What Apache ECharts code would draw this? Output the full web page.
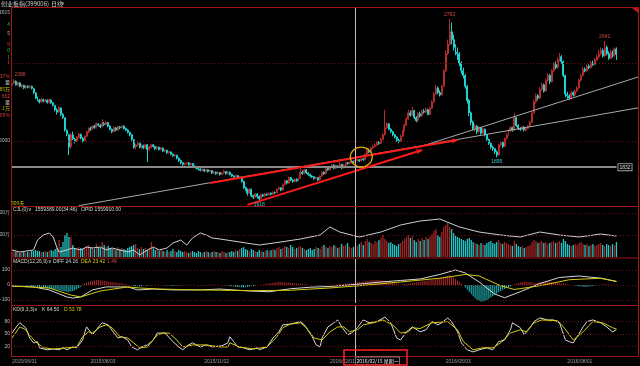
<!DOCTYPE html>
<html><head><meta charset="utf-8">
<script src="https://cdn.jsdelivr.net/npm/echarts@6/dist/echarts.min.js"></script>
<style>html,body{margin:0;padding:0;background:#000;}#c{width:640px;height:366px;}</style>
</head><body><div id="c"></div>
<script>
// ---------- DATA ----------
// candles: [open, close, low, high]
const candles = [
[2355,2370,2348,2380],[2372,2385,2365,2396],[2382,2360,2355,2388],[2358,2375,2350,2380],[2372,2350,2345,2378],[2350,2358,2340,2365],[2356,2340,2332,2360],[2340,2352,2335,2358],[2350,2345,2338,2356],[2345,2350,2336,2358],
[2350,2338,2330,2355],[2335,2310,2300,2340],[2308,2275,2268,2312],[2278,2262,2255,2285],[2262,2250,2240,2270],[2250,2268,2245,2275],[2266,2255,2248,2272],[2255,2262,2250,2270],[2262,2248,2240,2266],[2248,2265,2242,2270],
[2262,2245,2238,2268],[2245,2230,2222,2250],[2228,2200,2190,2232],[2200,2185,2170,2210],[2185,2215,2180,2222],[2212,2170,2160,2215],[2170,2150,2140,2178],[2148,2070,2060,2152],[2068,2045,2030,2075],[2040,1960,1910,2045],
[1965,2040,1950,2050],[2038,2015,2005,2060],[2012,2000,1985,2020],[2000,2025,1992,2032],[2022,2045,2015,2052],[2042,2020,2010,2048],[2018,2000,1990,2025],[2002,2030,1998,2035],[2030,2060,2025,2066],[2058,2080,2050,2088],
[2080,2075,2065,2092],[2075,2095,2070,2100],[2095,2085,2078,2102],[2085,2110,2080,2118],[2108,2100,2092,2115],[2100,2090,2082,2108],[2090,2115,2088,2140],[2112,2105,2095,2122],[2105,2120,2100,2128],[2118,2095,2088,2122],
[2095,2075,2068,2100],[2075,2060,2050,2080],[2060,2085,2055,2092],[2085,2070,2062,2090],[2070,2092,2066,2098],[2090,2085,2075,2096],[2085,2095,2080,2102],[2095,2080,2072,2100],[2080,2070,2062,2086],[2070,2055,2048,2075],
[2055,2040,2030,2060],[2040,2010,2000,2045],[2008,1960,1950,2012],[1962,1975,1945,1982],[1975,1985,1965,1995],[1984,1960,1952,1990],[1960,1970,1950,1978],[1970,1955,1948,1976],[1955,1975,1950,1982],[1975,1945,1865,1980],
[1945,1960,1938,1968],[1958,1975,1952,1982],[1975,1965,1958,1980],[1965,1950,1942,1970],[1950,1960,1945,1966],[1960,1945,1938,1964],[1945,1955,1940,1960],[1955,1935,1928,1958],[1935,1940,1928,1946],[1940,1925,1918,1944],
[1925,1930,1918,1936],[1930,1915,1908,1934],[1915,1905,1898,1920],[1905,1910,1896,1916],[1908,1890,1882,1912],[1890,1875,1866,1894],[1875,1860,1850,1880],[1860,1850,1840,1864],[1850,1855,1842,1862],[1855,1860,1848,1866],
[1860,1848,1840,1864],[1848,1855,1842,1860],[1855,1842,1835,1858],[1842,1835,1828,1846],[1835,1825,1818,1840],[1825,1820,1812,1830],[1820,1812,1805,1825],[1812,1818,1806,1824],[1818,1808,1800,1822],[1808,1815,1802,1820],
[1815,1805,1798,1818],[1805,1810,1798,1816],[1810,1795,1788,1814],[1795,1800,1788,1806],[1800,1790,1782,1804],[1790,1798,1785,1805],[1798,1785,1778,1802],[1785,1795,1780,1800],[1795,1805,1790,1815],[1805,1790,1784,1808],
[1790,1800,1785,1806],[1800,1785,1778,1804],[1785,1775,1768,1790],[1775,1770,1762,1780],[1770,1778,1765,1784],[1778,1765,1758,1782],[1765,1770,1758,1775],[1768,1740,1732,1772],[1740,1700,1692,1745],[1700,1690,1680,1708],
[1690,1665,1650,1695],[1665,1690,1660,1698],[1690,1650,1640,1694],[1650,1640,1628,1656],[1640,1660,1635,1666],[1660,1645,1630,1665],[1645,1630,1618,1650],[1630,1655,1625,1660],[1655,1648,1640,1662],[1648,1660,1642,1666],
[1660,1655,1648,1664],[1655,1665,1650,1670],[1665,1658,1650,1670],[1658,1670,1654,1676],[1670,1668,1660,1676],[1668,1690,1664,1696],[1690,1700,1685,1708],[1700,1685,1678,1704],[1685,1720,1682,1726],[1720,1745,1715,1752],
[1745,1730,1722,1750],[1730,1765,1726,1772],[1765,1750,1742,1770],[1750,1740,1732,1756],[1740,1755,1735,1760],[1755,1745,1738,1760],[1745,1760,1740,1766],[1760,1800,1755,1830],[1800,1790,1782,1810],[1790,1815,1786,1822],
[1815,1795,1788,1820],[1795,1785,1778,1800],[1785,1775,1768,1790],[1775,1770,1762,1780],[1770,1760,1752,1775],[1760,1765,1752,1770],[1765,1750,1742,1768],[1750,1775,1746,1780],[1775,1800,1770,1806],[1800,1790,1782,1806],
[1790,1825,1786,1832],[1825,1815,1808,1830],[1815,1830,1810,1836],[1830,1845,1825,1852],[1845,1825,1818,1850],[1825,1840,1820,1846],[1840,1835,1826,1846],[1835,1850,1830,1865],[1850,1828,1820,1854],[1828,1845,1824,1850],
[1845,1860,1840,1866],[1860,1855,1848,1866],[1855,1865,1850,1870],[1865,1870,1858,1876],[1870,1862,1855,1874],[1862,1875,1858,1880],[1875,1880,1868,1886],[1880,1872,1865,1884],[1872,1885,1868,1890],[1885,1880,1872,1890],
[1880,1915,1876,1920],[1915,1940,1910,1948],[1940,1930,1922,1950],[1930,1955,1926,1962],[1955,1965,1948,1975],[1965,1975,1958,1985],[1975,1990,1968,1998],[1990,1985,1975,1998],[1985,2010,1980,2020],[2010,2040,2005,2050],
[2040,2085,2035,2200],[2085,2110,2078,2120],[2110,2075,2068,2115],[2075,2060,2050,2082],[2060,2040,2030,2065],[2040,2025,2015,2046],[2025,2005,1995,2030],[2005,1998,1985,2015],[1998,2030,1992,2040],[2030,2065,2025,2072],
[2065,2100,2060,2110],[2100,2140,2095,2150],[2140,2180,2135,2200],[2180,2165,2155,2195],[2165,2195,2160,2220],[2195,2150,2140,2200],[2150,2130,2120,2160],[2130,2175,2125,2185],[2175,2160,2150,2188],[2160,2190,2155,2200],
[2190,2185,2175,2205],[2185,2200,2178,2215],[2200,2170,2165,2208],[2170,2210,2166,2220],[2210,2250,2205,2260],[2250,2300,2245,2315],[2300,2340,2295,2360],[2340,2310,2300,2350],[2310,2295,2285,2325],[2295,2350,2290,2360],
[2350,2450,2345,2460],[2450,2560,2440,2580],[2560,2620,2550,2650],[2620,2700,2610,2782],[2700,2650,2620,2760],[2650,2600,2580,2680],[2600,2570,2550,2620],[2570,2560,2520,2600],[2560,2500,2480,2570],[2500,2450,2430,2510],
[2450,2420,2400,2470],[2420,2350,2335,2430],[2350,2260,2240,2360],[2260,2180,2160,2270],[2180,2120,2100,2190],[2120,2080,2068,2130],[2080,2095,2060,2110],[2095,2060,2045,2102],[2060,2085,2050,2095],[2085,2050,2040,2090],
[2050,2075,2045,2085],[2075,2040,2030,2080],[2040,2010,2000,2045],[2010,1985,1975,2015],[1985,1960,1950,1990],[1960,1950,1935,1970],[1950,1930,1915,1955],[1930,1910,1895,1940],[1910,1975,1905,1982],[1975,1990,1965,2000],
[1990,1965,1955,1995],[1965,2015,1960,2022],[2015,2040,2010,2050],[2040,2065,2035,2075],[2065,2085,2058,2095],[2085,2070,2060,2092],[2070,2150,2065,2180],[2150,2100,2090,2155],[2100,2080,2070,2108],[2080,2075,2065,2088],
[2075,2090,2068,2098],[2090,2070,2062,2095],[2070,2080,2062,2088],[2080,2095,2075,2102],[2095,2120,2090,2130],[2120,2180,2115,2190],[2180,2250,2175,2265],[2250,2290,2240,2305],[2290,2275,2260,2300],[2275,2330,2270,2345],
[2330,2360,2320,2375],[2360,2320,2310,2368],[2320,2390,2315,2400],[2390,2420,2380,2435],[2420,2380,2365,2430],[2380,2450,2375,2462],[2450,2490,2440,2505],[2490,2470,2460,2510],[2470,2520,2465,2535],[2520,2540,2510,2565],
[2540,2510,2495,2550],[2510,2420,2410,2515],[2420,2300,2280,2425],[2300,2290,2270,2315],[2290,2275,2262,2300],[2275,2310,2268,2320],[2310,2295,2285,2318],[2295,2320,2288,2330],[2320,2340,2312,2350],[2340,2390,2335,2400],
[2390,2420,2380,2432],[2420,2460,2415,2475],[2460,2450,2440,2472],[2450,2480,2445,2490],[2480,2470,2460,2492],[2470,2500,2465,2512],[2500,2490,2480,2515],[2490,2520,2485,2532],[2520,2540,2512,2555],[2540,2560,2530,2585],
[2560,2580,2550,2600],[2580,2545,2535,2595],[2545,2600,2540,2641],[2600,2560,2550,2612],[2560,2530,2520,2575],[2530,2570,2525,2585],[2570,2545,2535,2580],[2545,2590,2540,2600],[2590,2555,2520,2600]
];
const volumes = [
500,600,500,500,400,500,500,400,500,500,600,600,
700,600,600,500,500,600,500,600,700,600,800,
900,1700,1000,1500,2200,2400,2000,
2000,1200,900,800,1000,900,800,900,
1100,1200,900,1000,800,1300,1000,900,
1500,1200,1000,1100,900,
800,900,700,1000,800,900,800,700,900,1000,1100,1200,
1300,900,800,1000,
800,900,700,800,1500,900,700,800,600,700,
600,500,700,500,600,800,600,500,700,600,500,600,500,400,500,600,500,400,600,500,400,500,600,500,400,500,600,500,500,400,600,500,400,500,
500,600,500,700,600,800,900,1000,800,700,600,800,700,600,500,700,600,500,600,700,600,700,800,700,900,1000,800,900,1100,1000,900,1200,1000,800,900,1000,1100,900,800,700,800,900,700,800,1000,900,800,1100,1200,1000,900,1100,
1000,1200,1100,900,1000,1300,1100,1200,1400,1000,900,1000,1200,1100,1300,1500,1200,1600,1800,1500,1400,1300,1600,1500,1700,1900,2200,1800,1600,1400,1500,1300,1200,1100,1300,
1400,1600,1800,2000,2200,1900,2100,1700,1500,1800,1600,1900,1700,2000,1800,2100,2300,2600,2800,2200,2000,2500,3000,3200,3400,3000,
2800,2400,2200,2000,1900,1800,1700,1600,1800,1900,1700,1500,1400,1300,1200,1400,1300,1200,1400,1500,1600,1400,1300,1500,1700,1400,
1300,1500,1400,1300,1200,1100,1600,1300,1100,1000,1100,900,1000,1100,1200,1500,1700,1600,1400,1500,1600,1400,1500,1300,1400,1500,1600,1400,1500,1600,1400,1800,1600,1300,1200,1100,1200,1300,1200,1400,1500,1300,1200,1300,1100,1200,1300,1100,1200,1300,1400,1200,1100,1300,1200,1100,1300,1200,1500
];
// volume panel white line: [candle index, value]
const volLine = [[0,700],[4,500],[11,700],[13,1700],[16,2200],[19,2400],[21,2000],[23,900],[24,500],[28,700],[31,900],[35,700],[38,1000],[41,900],[45,1000],[48,700],[51,900],[55,700],[59,500],[62,700],[65,200],[69,700],[72,1000],[75,700],[79,900],[82,1400],[86,1700],[89,1200],[92,1900],[96,2400],[99,2200],[102,1900],[106,1800],[116,1500],[126,1200],[137,1500],[147,1800],[157,2200],[162,3000],[167,2500],[177,2000],[188,2500],[198,3200],[208,3600],[218,3800],[228,3000],[238,2500],[249,2200],[259,2000],[269,2500],[279,2200],[289,2000],[300,2300],[308,2100]];
const macdHist = [
0,-1,-2,-2,-3,-3,-4,-4,-5,-6,-6,
-8,-10,-12,-14,-16,-18,-20,-22,-24,-26,
-28,-30,-32,-35,-38,-40,-42,-45,-46,-44,
-40,-35,-28,-20,-12,
5,10,15,20,25,28,30,32,33,32,
30,28,26,24,22,20,18,16,14,12,10,8,5,3,
-2,-4,-6,-8,-10,-8,-6,-5,-4,-3,-2,-1,0,1,2,1,0,-1,-2,-3,-4,-5,-6,-5,-4,-3,-2,-1,0,1,1,2,2,1,0,-1,-2,-2,-1,0,
1,2,2,3,2,1,0,-1,-2,-3,-4,-6,-8,-10,-12,-13,-14,-15,-16,-14,-12,-10,-8,-6,-4,-2,0,2,4,6,8,
10,12,14,16,18,20,20,19,18,17,16,15,14,12,10,8,6,5,4,3,2,1,0,-1,-2,-3,-4,-3,-2,-1,0,1,2,3,4,5,6,7,8,9,
10,11,12,14,16,18,20,22,24,26,28,30,32,33,34,34,33,32,30,28,26,24,20,16,12,8,4,2,4,6,8,10,12,14,16,18,20,22,24,26,28,30,32,34,36,38,40,44,48,52,56,60,64,
60,50,40,30,20,10,0,-15,-30,-45,-60,-75,-88,-98,-105,-110,-110,-106,-100,-92,-84,-75,-66,-57,-48,-40,-32,
-26,-20,-14,-8,-2,4,10,14,18,20,22,22,20,18,16,14,14,16,18,20,22,24,24,22,20,18,16,14,12,10,8,6,4,2,0,-2,-4,-6,-8,-10,-12,-14,-12,-10,-8,-6,-4,-2,0,2,4,4,3,2,2,1,1,1
];
const macdDiff = [[0,-7],[11,-13],[19,-33],[28,-80],[31,-87],[35,-80],[41,-33],[48,-13],[59,-13],[64,-33],[72,-27],[82,-33],[96,-33],[106,-27],[121,-40],[131,-45],[142,-25],[152,-15],[162,-10],[172,0],[188,20],[198,30],[208,40],[218,70],[226,100],[231,80],[238,20],[246,-60],[251,-85],[259,-45],[269,10],[279,50],[289,60],[300,45],[308,24]];
const macdDea = [[0,-7],[19,-20],[30,-67],[35,-80],[45,-40],[59,-13],[65,-20],[75,-27],[96,-33],[121,-38],[142,-35],[162,-20],[177,-5],[198,20],[218,45],[231,70],[238,60],[249,-5],[256,-30],[269,-5],[284,35],[300,45],[308,23]];
const kLine = [[0,52],[3,72],[4,77],[7,65],[9,40],[11,28],[13,31],[14,16],[18,11],[21,13],[24,11],[26,16],[28,11],[31,18],[33,16],[36,35],[37,52],[38,67],[40,55],[41,48],[45,72],[46,77],[49,72],[52,52],[54,40],[56,43],[59,35],[61,18],[64,11],[66,18],[69,23],[72,35],[74,52],[75,55],[78,52],[79,48],[82,31],[85,18],[87,11],[90,23],[92,28],[96,18],[99,23],[102,18],[107,21],[110,28],[111,43],[113,31],[115,18],[118,16],[121,11],[125,16],[126,11],[130,18],[133,40],[136,55],[138,72],[142,74],[147,80],[149,72],[153,43],[155,23],[157,18],[158,40],[161,67],[164,77],[166,84],[168,67],[171,48],[173,52],[176,65],[179,84],[182,77],[186,80],[190,91],[193,77],[196,40],[198,35],[201,55],[204,67],[208,55],[211,60],[214,80],[217,72],[219,77],[222,89],[224,80],[227,55],[229,28],[232,11],[235,6],[238,11],[242,16],[245,11],[248,31],[251,35],[254,60],[255,77],[259,65],[261,48],[264,65],[266,80],[269,89],[273,84],[276,84],[279,77],[282,35],[284,31],[286,28],[288,43],[291,67],[293,80],[296,84],[300,77],[303,67],[306,55],[308,60]];
const dLine = [[0,40],[4,67],[7,60],[9,47],[12,31],[16,16],[21,13],[28,16],[33,18],[36,43],[39,55],[41,52],[45,67],[48,72],[51,65],[55,43],[59,40],[62,28],[65,16],[69,18],[74,47],[77,52],[80,52],[84,35],[87,18],[92,23],[99,23],[106,18],[110,18],[111,28],[116,18],[123,13],[130,18],[135,43],[138,65],[142,74],[147,77],[150,65],[154,40],[158,35],[162,55],[166,67],[169,67],[172,55],[176,60],[179,72],[184,77],[189,84],[194,72],[198,52],[202,55],[204,65],[208,63],[214,77],[222,80],[227,60],[230,31],[235,11],[240,16],[245,16],[249,28],[254,52],[259,60],[262,55],[266,77],[270,84],[278,82],[281,67],[286,35],[291,55],[296,80],[301,77],[306,65],[308,62]];
const tickLabels = ["2015/06/01","2015/08/03","2015/11/02","2016/02/01","2016/05/03","2016/08/01"];
const tickIndex = [0,40,98,162,221,283];
const extremeLabels = ["2396","2782","1618","1895","2641"];
const extremeIndex = [1,223,126,247,302];
const extremeValue = [2396,2782,1618,1895,2641];
const levelValue = 1832;
// drawn trend lines: [startIndex, startValue, endIndex, endValue]
const redLines = [[101,1731,227,2006],[120,1590,209,1942]];
const greyLines = [[34,1585,319,2212],[206,1955,319,2410]];
const circleAt = [178,1897];
const crossIndex = 175;
const crossText = "2016/02/15 星期一";
const holidays = ['2015-06-22','2015-09-03','2015-09-04','2015-10-01','2015-10-02','2015-10-05','2015-10-06','2015-10-07','2016-01-01','2016-02-08','2016-02-09','2016-02-10','2016-02-11','2016-02-12','2016-04-04','2016-05-02','2016-06-09','2016-06-10'];

// ---------- categories (trading days) ----------
function tradingDays(start, n){
  const out=[]; let d=new Date(start+'T00:00:00Z');
  while(out.length<n){
    const s=d.toISOString().slice(0,10); const w=d.getUTCDay();
    if(w!==0&&w!==6&&holidays.indexOf(s)<0) out.push(s.replace(/-/g,'/'));
    d=new Date(d.getTime()+86400000);
  }
  return out;
}
const cats = tradingDays('2015-06-05', candles.length);
for(let i=candles.length;i<320;i++) cats.push('p'+i);

const UP='#8e1c1c', UPB='#b52a2a', DN='#1fd2d2';
const FONT='"Liberation Sans", Arial, sans-serif';
const CJK='"Noto Sans CJK SC", "Liberation Sans", sans-serif';
const GRIDC='#6e1010';

const chart = echarts.init(document.getElementById('c'), null, {renderer:'canvas', width:640, height:366});

const grids = [
  {left:11, top:7, width:628, height:199},
  {left:11, top:207, width:628, height:50},
  {left:11, top:259, width:628, height:44},
  {left:11, top:306, width:628, height:50}
];
const yRanges = [[1583,2859],[0,5000],[-120,173],[-4,118]];

function hLine(v, label, color){
  return {yAxis:v, lineStyle:{color:color||GRIDC, type:[1,2], width:1},
    label:{show:!!label, formatter:label||'', position:'start', distance:1, fontSize:5, fontFamily:FONT, color:'#bdbdbd'}};
}
const crossLine = {xAxis: crossIndex, lineStyle:{color:'#bdbdbd', type:'solid', width:1}, label:{show:false}};

const mlBase = {silent:true, symbol:['none','none'], animation:false};

const option = {
  backgroundColor:'#000',
  animation:false,
  grid: grids,
  xAxis: grids.map((g,gi)=>({
    type:'category', gridIndex:gi, data:cats, boundaryGap:true,
    axisLine:{show:false}, axisTick:{show:false}, splitLine:{show:false},
    axisLabel: gi===3 ? {
      show:true, interval:(idx)=>tickIndex.indexOf(idx)>=0,
      formatter:(v,idx)=>{const k=tickIndex.indexOf(idx); return k>=0?tickLabels[k]:'';},
      align:'left', fontSize:5, fontFamily:FONT, color:'#9c9c9c', margin:3, hideOverlap:false
    } : {show:false}
  })),
  yAxis: yRanges.map((r,gi)=>({type:'value', gridIndex:gi, min:r[0], max:r[1], scale:true,
    axisLine:{show:false}, axisTick:{show:false}, axisLabel:{show:false}, splitLine:{show:false}})),
  series: [
    {
      type:'candlestick', xAxisIndex:0, yAxisIndex:0, data:candles, barWidth:'75%',
      itemStyle:{color:UP, color0:DN, borderColor:UPB, borderColor0:DN, borderWidth:1},
      markLine: Object.assign({}, mlBase, {data:[
        hLine(2000,'2000'), hLine(2500,''),
        [{coord:[0,levelValue], lineStyle:{color:'#8a8a8a', width:2, type:'solid'}},
         {coord:[308,levelValue], label:{show:true, formatter:String(levelValue), position:'end', distance:2, fontSize:5, fontFamily:FONT, color:'#e0e0e0', borderColor:'#9a9a9a', borderWidth:1, padding:[1,1,0,1], backgroundColor:'#000'}}],
        ...greyLines.map(l=>[{coord:[l[0],l[1]], lineStyle:{color:'#a8a8a8', width:1, type:'solid'}, label:{show:false}},{coord:[l[2],l[3]]}]),
        ...redLines.map(l=>[{coord:[l[0],l[1]], lineStyle:{color:'#ff1a1a', width:2, type:'solid'}, label:{show:false}},{coord:[l[2],l[3]], symbol:'arrow', symbolSize:[4,6]}]),
        crossLine
      ]}),
      markPoint:{silent:true, animation:false, symbol:'circle', symbolSize:0,
        data: extremeLabels.map((t,k)=>{
          const high = extremeValue[k] > 2200;
          return {coord:[extremeIndex[k], extremeValue[k]],
            label:{show:true, formatter:t, position: high?'top':'bottom', distance:2, fontSize:5, fontFamily:FONT,
              color: high?'#d84a4a':'#3fc6c6', offset: k===0?[6,0]:[0,0]}};
        })}
    },
    {
      type:'bar', xAxisIndex:1, yAxisIndex:1, barWidth:1.3,
      data: volumes.map((v,i)=>({value:v, itemStyle:{color: candles[i][1]>=candles[i][0]?'#a32626':'#22c8c8'}})),
      markLine: Object.assign({}, mlBase, {data:[hLine(4400,'00万'), hLine(2200,'00万'), crossLine]})
    },
    {type:'line', xAxisIndex:1, yAxisIndex:1, data:volLine, symbol:'none', lineStyle:{color:'#cfcfcf', width:1}},
    {
      type:'bar', xAxisIndex:2, yAxisIndex:2, barWidth:1,
      data: macdHist.map(v=>({value:v, itemStyle:{color: v>=0?'#b02a2a':'#22c8c8'}})),
      markLine: Object.assign({}, mlBase, {data:[hLine(100,'100'), hLine(0,'0'), hLine(-100,'-100'), crossLine]})
    },
    {type:'line', xAxisIndex:2, yAxisIndex:2, data:macdDiff, symbol:'none', lineStyle:{color:'#d8d8d8', width:1}},
    {type:'line', xAxisIndex:2, yAxisIndex:2, data:macdDea, symbol:'none', lineStyle:{color:'#d6cc10', width:1}},
    {type:'line', xAxisIndex:3, yAxisIndex:3, data:kLine, symbol:'none', lineStyle:{color:'#d8d8d8', width:1},
      markLine: Object.assign({}, mlBase, {data:[hLine(80,'80'), hLine(50,'50'), hLine(20,'20'), crossLine]})},
    {type:'line', xAxisIndex:3, yAxisIndex:3, data:dLine, symbol:'none', lineStyle:{color:'#d6cc10', width:1}}
  ]
};
chart.setOption(option);

// ---------- frame, headers, annotations ----------
const BORDER='#a01414';
function line(x1,y1,x2,y2,c,w){return {type:'line', shape:{x1,y1,x2,y2}, style:{stroke:c||BORDER, lineWidth:w||1}, silent:true, z:50};}
function txt(x,y,t,c,opt){return Object.assign({type:'text', x, y, style:{text:t, fill:c||'#cfcfcf', font:'5px '+FONT, textVerticalAlign:'middle'}, silent:true, z:60}, opt||{});}
function cjk(x,y,t,c,sz,align){return {type:'text', x, y, style:{text:t, fill:c||'#cfcfcf', font:(sz||6)+'px '+CJK, textVerticalAlign:'middle', textAlign:align||'left'}, silent:true, z:60};}

const pc = chart.convertToPixel({gridIndex:0}, circleAt);
const px = chart.convertToPixel({gridIndex:3}, [crossIndex, 0])[0];

const leftCol = [[12,'2015','#c0c0c0'],[24,'4','#2bc02b'],[33,'5','#c0c0c0'],[44,'9','#e04040'],[50,'0','#2bc02b'],[57,'1','#2bc02b'],[62,'1','#e04040'],[76,'37%','#e04040'],[82,'量','#c0c0c0'],[89,'.85万','#c8c000'],[96,'882','#e04040'],[102,'量','#c0c0c0'],[108,'.1万','#c8c000'],[115,'.05%','#e04040']];

const g = [
  line(11,7.5,639,7.5), line(11,206.5,639,206.5), line(11,258,639,258), line(11,305.5,639,305.5), line(11,356.5,639,356.5),
  line(11.5,7,11.5,357), line(638.5,7,638.5,357),
  {type:'polygon', shape:{points:[[632,8],[638,8],[638,13]]}, style:{fill:'#c01818'}, z:55, silent:true},
  {type:'ellipse', shape:{cx:pc[0], cy:pc[1], rx:11, ry:10}, style:{fill:null, stroke:'#e0a800', lineWidth:1.3}, z:58, silent:true},
  cjk(1,3.5,'创业板指(399006)','#c8c8c8',6),
  cjk(51,3.5,'日线','#c8c8c8',6),
  txt(61,3.5,'∨','#c8c8c8'),
  cjk(11,203,'309天','#c8c000',5),
  txt(13,209.5,'CJL(0)∨','#d8d8c0'), txt(35,209.5,'1559389.00(34:46)','#d8d8d8'), txt(81,209.5,'OPID 1559910.00','#d8d8d8'),
  txt(13,261.5,'MACD(12,26,9)∨','#d8d8c0'), txt(53,261.5,'DIFF 24.16','#d8d8d8'), txt(81,261.5,'DEA 23.42','#d6cc10'), txt(107,261.5,'1.49','#d84a4a'),
  txt(13,310,'KD(9,3,3)∨','#d8d8c0'), txt(42,310,'K 64.50','#d8d8d8'), txt(64,310,'D 53.78','#d6cc10'),
  ...leftCol.map(r=>({type:'text', x:10, y:r[0], style:{text:r[1], fill:r[2], font:'5px '+CJK, textAlign:'right', textVerticalAlign:'middle'}, silent:true, z:60})),
  {type:'rect', shape:{x:px, y:357, width:44, height:8}, style:{fill:'#000', stroke:'#9a9a9a', lineWidth:0.8}, z:70, silent:true},
  {type:'text', x:px+1, y:361.5, style:{text:crossText, fill:'#e8e8e8', font:'5px '+CJK, textVerticalAlign:'middle'}, z:71, silent:true},
  {type:'rect', shape:{x:344, y:350, width:63, height:15}, style:{fill:null, stroke:'#ff2020', lineWidth:1.5}, z:72, silent:true}
];
chart.setOption({graphic: g});
</script>
</body></html>
